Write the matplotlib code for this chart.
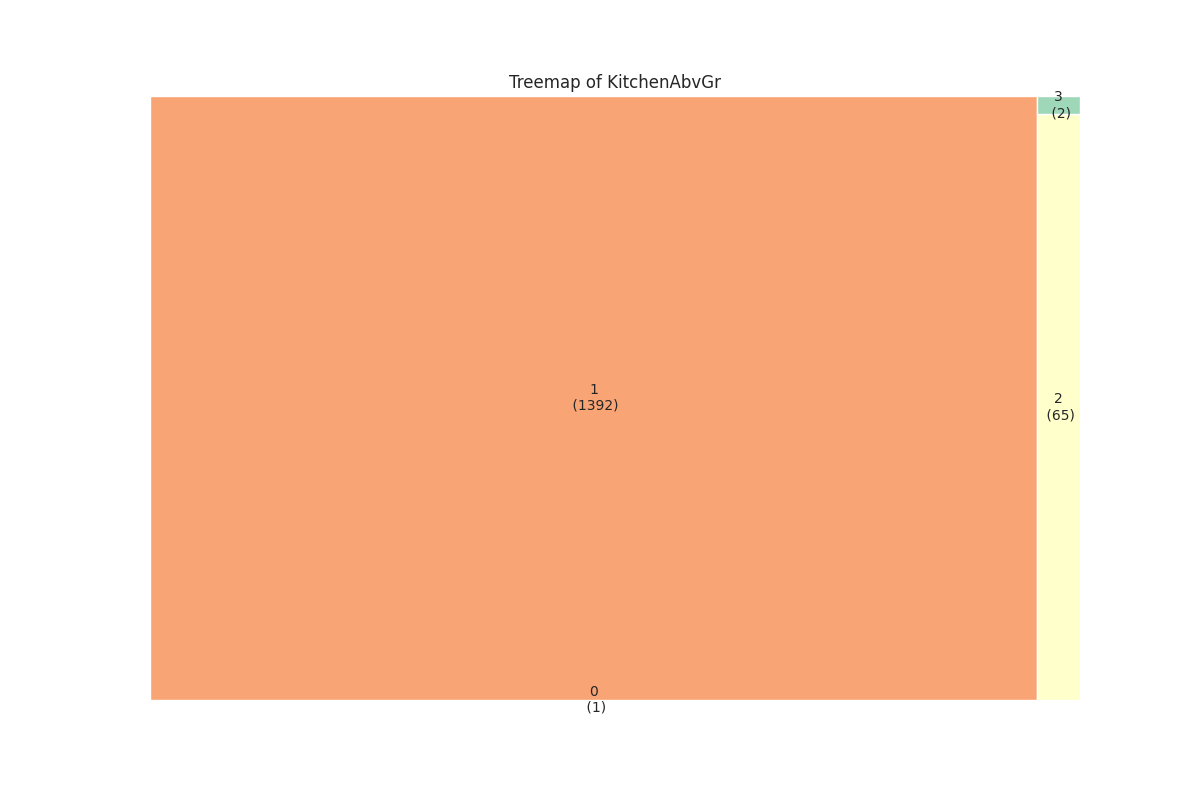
import matplotlib
matplotlib.use("Agg")
import matplotlib.pyplot as plt

# KitchenAbvGr value counts (sorted by category)
categories = ["0", "1", "2", "3"]
counts = [1, 1392, 65, 2]
colors = ["#e0707a", "#f9a474", "#ffffcc", "#9fd7b9"]


# ---- squarify layout (same algorithm as the squarify package) ----
def normalize(sizes, dx, dy):
    total = sum(sizes)
    return [s * dx * dy / total for s in sizes]


def layoutrow(sizes, x, y, dx, dy):
    covered = sum(sizes)
    width = covered / dy
    rects = []
    for s in sizes:
        rects.append((x, y, width, s / width))
        y += s / width
    return rects


def layoutcol(sizes, x, y, dx, dy):
    covered = sum(sizes)
    height = covered / dx
    rects = []
    for s in sizes:
        rects.append((x, y, s / height, height))
        x += s / height
    return rects


def layout(sizes, x, y, dx, dy):
    return layoutrow(sizes, x, y, dx, dy) if dx >= dy else layoutcol(sizes, x, y, dx, dy)


def leftover(sizes, x, y, dx, dy):
    covered = sum(sizes)
    if dx >= dy:
        width = covered / dy
        return x + width, y, dx - width, dy
    height = covered / dx
    return x, y + height, dx, dy - height


def worst(sizes, x, y, dx, dy):
    return max(max(r[2] / r[3], r[3] / r[2]) for r in layout(sizes, x, y, dx, dy))


def squarify(sizes, x, y, dx, dy):
    if len(sizes) == 0:
        return []
    if len(sizes) == 1:
        return layout(sizes, x, y, dx, dy)
    i = 1
    while i < len(sizes) and worst(sizes[:i], x, y, dx, dy) >= worst(sizes[:i + 1], x, y, dx, dy):
        i += 1
    current = sizes[:i]
    remaining = sizes[i:]
    lx, ly, ldx, ldy = leftover(current, x, y, dx, dy)
    return layout(current, x, y, dx, dy) + squarify(remaining, lx, ly, ldx, ldy)


W, H = 100.0, 100.0
rects = squarify(normalize(counts, W, H), 0, 0, W, H)

fig = plt.figure(figsize=(12, 8), dpi=100)
ax = fig.add_axes([150 / 1200, 100 / 800, 930 / 1200, 604 / 800])

for (rx, ry, rw, rh), c, cat, n in zip(rects, colors, categories, counts):
    ax.bar(rx, rh, width=rw, bottom=ry, align="edge", color=c,
           edgecolor="white", linewidth=1)
    ax.text(rx + rw / 2, ry + rh / 2, f"{cat}\n ({n})", ha="center", va="center",
            fontsize=10, color="#262626")

ax.set_xlim(0, W)
ax.set_ylim(0, H)
ax.axis("off")
ax.set_title("Treemap of KitchenAbvGr", fontsize=12, color="#262626")

plt.savefig("out.png", dpi=100)
